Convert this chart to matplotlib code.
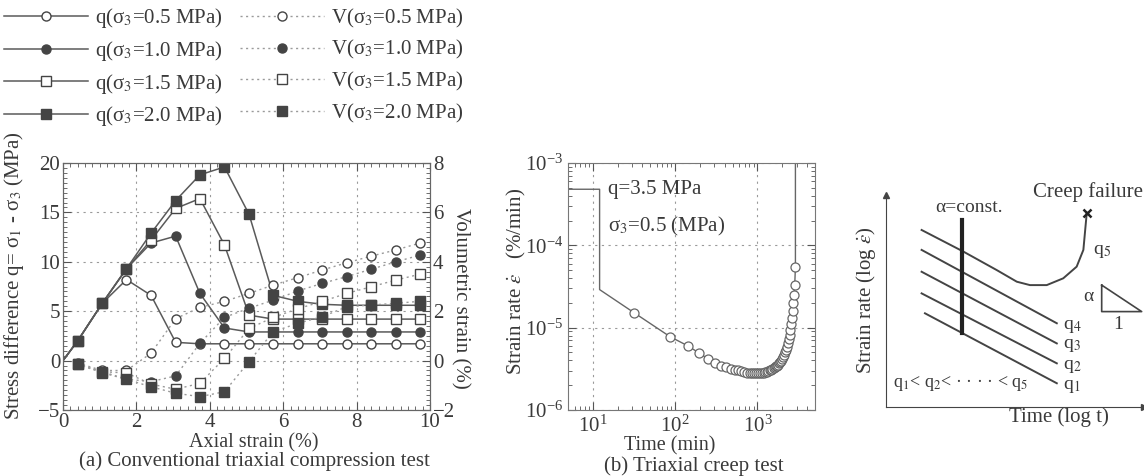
import matplotlib
matplotlib.use("Agg")
import matplotlib.pyplot as plt
from matplotlib.ticker import MultipleLocator, LogLocator, NullFormatter

plt.rcParams['font.family'] = ['Liberation Serif', 'DejaVu Serif']
plt.rcParams['mathtext.fontset'] = 'stix'

TXT = '#3a3a3a'
plt.rcParams['text.color'] = TXT
plt.rcParams['axes.labelcolor'] = TXT
plt.rcParams['xtick.color'] = '#555555'
plt.rcParams['ytick.color'] = '#555555'
plt.rcParams['xtick.labelcolor'] = TXT
plt.rcParams['ytick.labelcolor'] = TXT

# ---------------- data: panel (a) ----------------
axial_q = [0, 0.4, 1.07, 1.73, 2.4, 3.07, 3.73, 4.4, 5.07, 5.73, 6.4, 7.07, 7.73, 8.4, 9.07, 9.73]
q_05 = [0, 2.0, 5.8, 8.2, 6.6, 1.85, 1.7, 1.7, 1.7, 1.7, 1.7, 1.7, 1.7, 1.7, 1.7, 1.7]
q_10 = [0, 2.0, 5.8, 9.3, 11.9, 12.6, 6.8, 3.3, 2.9, 2.9, 2.9, 2.9, 2.9, 2.9, 2.9, 2.9]
q_15 = [0, 2.0, 5.8, 9.3, 12.2, 15.4, 16.4, 11.7, 4.6, 4.2, 4.2, 4.2, 4.2, 4.2, 4.2, 4.2]
q_20 = [0, 2.0, 5.8, 9.3, 12.9, 16.2, 18.8, 19.6, 14.8, 6.6, 6.0, 5.7, 5.6, 5.6, 5.6, 5.6]

axial_v = [0.4, 1.07, 1.73, 2.4, 3.07, 3.73, 4.4, 5.07, 5.73, 6.4, 7.07, 7.73, 8.4, 9.07, 9.73]
v_05 = [-0.1, -0.4, -0.4, 0.3, 1.7, 2.15, 2.4, 2.72, 3.06, 3.36, 3.67, 3.96, 4.23, 4.48, 4.76]
v_10 = [-0.15, -0.45, -0.75, -0.85, -0.62, 0.7, 1.75, 2.12, 2.45, 2.82, 3.13, 3.4, 3.7, 4.0, 4.27]
v_15 = [-0.15, -0.45, -0.5, -0.95, -1.16, -0.92, 0.09, 1.3, 1.75, 2.1, 2.4, 2.72, 2.99, 3.26, 3.5]
v_20 = [-0.15, -0.49, -0.76, -1.06, -1.32, -1.46, -1.26, -0.04, 1.17, 1.51, 1.78, 2.18, 2.25, 2.32, 2.4]

q_labels = ['q(σ$_3$=0.5 MPa)', 'q(σ$_3$=1.0 MPa)', 'q(σ$_3$=1.5 MPa)', 'q(σ$_3$=2.0 MPa)']
v_labels = ['V(σ$_3$=0.5 MPa)', 'V(σ$_3$=1.0 MPa)', 'V(σ$_3$=1.5 MPa)', 'V(σ$_3$=2.0 MPa)']

# ---------------- data: panel (b) ----------------
step_time = [5, 12.1, 12.1]
step_rate = [4.8e-4, 4.8e-4, 2.9e-5]
creep_time = [32, 87, 142, 197, 252, 307, 362, 417, 472, 527, 582, 637, 692, 747, 802,
              857, 912, 967, 1022, 1077, 1132, 1187, 1242, 1297, 1352, 1407, 1462, 1517,
              1572, 1627, 1682, 1737, 1792, 1847, 1902, 1957, 2012, 2067, 2122, 2177,
              2232, 2287, 2342, 2397, 2452, 2507, 2562, 2617, 2672, 2727, 2782, 2837, 2892]
creep_rate = [1.51e-5, 7.76e-6, 6.03e-6, 4.90e-6, 4.17e-6, 3.72e-6, 3.47e-6, 3.31e-6,
              3.16e-6, 3.09e-6, 3.02e-6, 2.95e-6, 2.88e-6, 2.85e-6, 2.82e-6, 2.82e-6,
              2.79e-6, 2.79e-6, 2.79e-6, 2.82e-6, 2.82e-6, 2.85e-6, 2.88e-6, 2.92e-6,
              2.95e-6, 3.02e-6, 3.09e-6, 3.16e-6, 3.24e-6, 3.31e-6, 3.39e-6, 3.47e-6,
              3.55e-6, 3.72e-6, 3.80e-6, 3.98e-6, 4.17e-6, 4.37e-6, 4.68e-6, 5.01e-6,
              5.37e-6, 5.89e-6, 6.46e-6, 7.24e-6, 8.13e-6, 9.33e-6, 1.10e-5, 1.32e-5,
              1.58e-5, 2.00e-5, 2.51e-5, 3.31e-5, 5.50e-5]
failure_time = [2892, 2892]
failure_rate = [5.50e-5, 1e-3]

# ---------------- data: panel (c) schematic ----------------
sch_x = [1.38, 6.62]
sch_q4 = [7.41, 3.95]
sch_q3 = [6.38, 3.0]
sch_q2 = [5.36, 2.06]
sch_q1 = [4.42, 1.12]
sch_q1_x = [1.51, 6.62]
sch_q5_x = [1.38, 3.0, 4.29, 5.07, 5.58, 6.23, 6.87, 7.39, 7.65, 7.78]
sch_q5_y = [8.35, 7.33, 6.46, 5.91, 5.75, 5.75, 6.07, 6.62, 7.41, 9.14]
alpha_x = [2.93, 2.93]
alpha_y = [3.48, 8.82]
tri_x = [8.36, 8.36, 9.91, 8.36]
tri_y = [5.75, 4.5, 4.5, 5.75]

W, H = 1144, 476
fig = plt.figure(figsize=(W / 100, H / 100), dpi=100)

def fa(l, t, r, b):
    return [l / W, 1 - b / H, (r - l) / W, (b - t) / H]

# ================= panel (a) =================
ax_a = fig.add_axes(fa(63, 163, 430, 410))
ax_v = ax_a.twinx()
LC = '#5a5a5a'
DK = '#444444'
VC = '#9a9a9a'
ms = 6.5
styles = [('o', 'white'), ('o', DK), ('s', 'white'), ('s', DK)]
handles = []
for (mk, fc), ys, lab in zip(styles, [q_05, q_10, q_15, q_20], q_labels):
    h, = ax_a.plot(axial_q, ys, color=LC, lw=1.1, marker=mk, mfc=fc, mec=DK,
                   mew=1.0, ms=ms, markevery=list(range(1, len(axial_q))), label=lab,
                   zorder=3)
    handles.append(h)
for (mk, fc), ys, lab in zip(styles, [v_05, v_10, v_15, v_20], v_labels):
    h, = ax_v.plot(axial_v, ys, color=VC, lw=1.0, ls=(0, (1.5, 2.5)), marker=mk,
                   mfc=fc, mec=DK, mew=1.0, ms=ms, label=lab, zorder=2)
    handles.append(h)

ax_a.set_xlim(0, 10)
ax_a.set_ylim(-5, 20)
ax_v.set_ylim(-2, 8)
ax_a.set_xticks([0, 2, 4, 6, 8, 10])
ax_a.set_yticks([-5, 0, 5, 10, 15, 20])
ax_v.set_yticks([-2, 0, 2, 4, 6, 8])
ax_a.xaxis.set_minor_locator(MultipleLocator(0.2))
ax_a.yaxis.set_minor_locator(MultipleLocator(0.5))
ax_v.yaxis.set_minor_locator(MultipleLocator(0.2))
ax_a.tick_params(which='both', direction='in', top=True, labelsize=15)
ax_a.tick_params(which='major', length=6)
ax_a.tick_params(which='minor', length=3)
ax_v.tick_params(which='both', direction='in', labelsize=15)
ax_v.tick_params(which='major', length=6)
ax_v.tick_params(which='minor', length=3)
ax_a.tick_params(axis='x', pad=2)
ax_a.tick_params(axis='y', pad=2)
ax_v.tick_params(axis='y', pad=2)
for sp in list(ax_a.spines.values()) + list(ax_v.spines.values()):
    sp.set_color('#666666')
ax_a.grid(True, which='major', ls=(0, (2, 4)), color='#9a9a9a', lw=0.8)
ax_a.set_axisbelow(True)
ax_a.set_xlabel('Axial strain (%)', fontsize=14.5)
ax_a.xaxis.set_label_coords(0.52, -0.094)
ax_a.set_ylabel('Stress difference q= σ$_1$ - σ$_3$ (MPa)', fontsize=15)
ax_a.yaxis.set_label_coords(-0.1, 0.545)
ax_v.set_ylabel('Volumetric strain (%)', fontsize=15, rotation=-90, va='bottom')
ax_v.yaxis.set_label_coords(1.055, 0.45)
fig.text(254 / W, 1 - 461 / H, '(a) Conventional triaxial compression test',
         ha='center', va='center', fontsize=15)

fig.legend(handles, q_labels + v_labels, ncol=2, loc='upper left',
           bbox_to_anchor=(0.0, 0.996), frameon=False, fontsize=15,
           handlelength=4.0, handletextpad=0.35, columnspacing=0.85,
           labelspacing=0.42, borderaxespad=0.0, borderpad=0.2)

# ================= panel (b) =================
ax_b = fig.add_axes(fa(568, 163, 815, 410))
ax_b.set_xscale('log')
ax_b.set_yscale('log')
ax_b.plot(step_time + creep_time + failure_time[1:],
          step_rate + creep_rate + failure_rate[1:], color='#666666', lw=1.0, zorder=2)
ax_b.plot(creep_time, creep_rate, ls='none', marker='o', mfc='white', mec='#666666',
          mew=0.9, ms=6.5, zorder=3)
ax_b.set_xlim(5, 5000)
ax_b.set_ylim(1e-6, 1e-3)
ax_b.xaxis.set_major_locator(LogLocator(base=10, numticks=10))
ax_b.yaxis.set_major_locator(LogLocator(base=10, numticks=10))
ax_b.xaxis.set_minor_locator(LogLocator(base=10, subs=range(2, 10), numticks=20))
ax_b.yaxis.set_minor_locator(LogLocator(base=10, subs=range(2, 10), numticks=20))
ax_b.xaxis.set_minor_formatter(NullFormatter())
ax_b.yaxis.set_minor_formatter(NullFormatter())
ax_b.tick_params(which='both', direction='in', top=True, right=True, labelsize=15)
ax_b.tick_params(which='major', length=6)
ax_b.tick_params(which='minor', length=3)
ax_b.tick_params(axis='x', pad=4)
for sp in ax_b.spines.values():
    sp.set_color('#777777')
ax_b.grid(True, which='major', ls=(0, (2, 4)), color='#9a9a9a', lw=0.8)
ax_b.set_axisbelow(True)
ax_b.set_xlabel('Time (min)', fontsize=14.5)
ax_b.xaxis.set_label_coords(0.41, -0.108)
ax_b.set_ylabel('Strain rate $\\dot{\\varepsilon}$   (%/min)', fontsize=15)
ax_b.yaxis.set_label_coords(-0.162, 0.52)
ax_b.text(15.3, 4.7e-4, 'q=3.5 MPa', fontsize=15, va='center', ha='left')
ax_b.text(15.3, 1.7e-4, 'σ$_3$=0.5 (MPa)', fontsize=15, va='center', ha='left')
fig.text(694 / W, 1 - 466 / H, '(b) Triaxial creep test', ha='center', va='center',
         fontsize=15)

# ================= panel (c) =================
ax_c = fig.add_axes(fa(886, 195, 1144, 407))
ax_c.set_xlim(0, 10)
ax_c.set_ylim(0, 10)
ax_c.set_xticks([])
ax_c.set_yticks([])
ax_c.spines['top'].set_visible(False)
ax_c.spines['right'].set_visible(False)
ax_c.spines['left'].set_color('#444444')
ax_c.spines['bottom'].set_color('#444444')
ax_c.patch.set_alpha(0)
ax_c.plot(0, 1, '^', color='#444444', ms=4, transform=ax_c.get_xaxis_transform(),
          clip_on=False)
ax_c.plot(1, 0, '>', color='#444444', ms=4, transform=ax_c.get_yaxis_transform(),
          clip_on=False)
SC = '#444444'
ax_c.plot(sch_x, sch_q4, color=SC, lw=1.4)
ax_c.plot(sch_x, sch_q3, color=SC, lw=1.4)
ax_c.plot(sch_x, sch_q2, color=SC, lw=1.4)
ax_c.plot(sch_q1_x, sch_q1, color=SC, lw=1.4)
ax_c.plot(sch_q5_x, sch_q5_y, color=SC, lw=1.4)
ax_c.plot(alpha_x, alpha_y, color='#222222', lw=3.0)
ax_c.plot(tri_x, tri_y, color=SC, lw=1.2, clip_on=False)
ax_c.plot(sch_q5_x[-1:], sch_q5_y[-1:], 'x', color='#222222', ms=6, mew=1.8)
ax_c.text(3.22, 9.39, 'α=const.', fontsize=14, ha='center', va='center')
ax_c.text(7.83, 10.14, 'Creep failure', fontsize=15, ha='center', va='center',
          clip_on=False)
ax_c.text(8.02, 7.33, 'q$_5$', fontsize=14, ha='left', va='center')
ax_c.text(6.86, 3.79, 'q$_4$', fontsize=14, ha='left', va='center')
ax_c.text(6.86, 2.88, 'q$_3$', fontsize=14, ha='left', va='center')
ax_c.text(6.86, 1.90, 'q$_2$', fontsize=14, ha='left', va='center')
ax_c.text(6.86, 0.96, 'q$_1$', fontsize=14, ha='left', va='center')
ax_c.text(8.03, 5.2, 'α', fontsize=14, ha='right', va='center')
ax_c.text(9.0, 3.87, '1', fontsize=14, ha='center', va='center')
ax_c.text(0.27, 1.13, 'q$_1$< q$_2$< · · · · < q$_5$', fontsize=13, ha='left',
          va='center')
fig.text(1059 / W, 1 - 417 / H, 'Time (log t)', ha='center', va='center', fontsize=15)
fig.text(866 / W, 1 - 300 / H, 'Strain rate (log $\\dot{\\varepsilon}$)', ha='center',
         va='center', fontsize=15, rotation=90)

fig.savefig('out.png', dpi=100)
